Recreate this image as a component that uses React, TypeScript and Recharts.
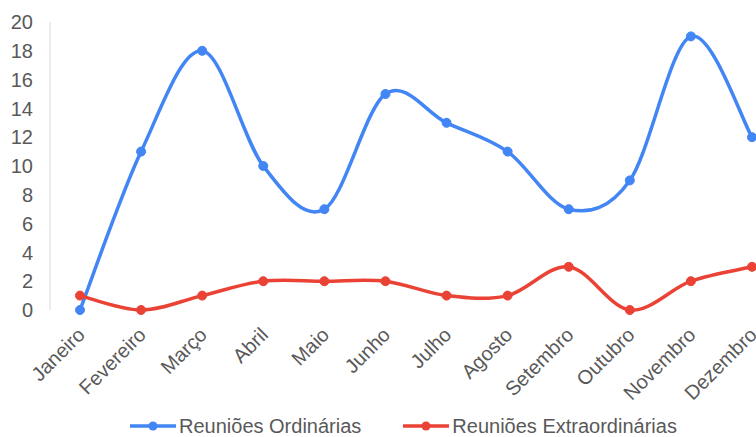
import { LineChart, Line, XAxis, YAxis, Legend } from "recharts";

const months = ["Janeiro", "Fevereiro", "Março", "Abril", "Maio", "Junho", "Julho", "Agosto", "Setembro", "Outubro", "Novembro", "Dezembro"];
const ordinarias = [0, 11, 18, 10, 7, 15, 13, 11, 7, 9, 19, 12];
const extraordinarias = [1, 0, 1, 2, 2, 2, 1, 1, 3, 0, 2, 3];
const yTicks = [0, 2, 4, 6, 8, 10, 12, 14, 16, 18, 20];

const data = months.map((m, i) => ({
  month: m,
  ord: ordinarias[i],
  ext: extraordinarias[i],
}));

const BLUE = "#4285f4";
const RED = "#ea4335";
const FONT = "'Liberation Sans', Arial, sans-serif";

// smoothed line like spreadsheet charts (catmull-rom style bezier)
const smoothCurve = (context: any) => {
  let pts: number[][] = [];
  return {
    areaStart() {},
    areaEnd() {},
    lineStart() {
      pts = [];
    },
    point(x: number, y: number) {
      pts.push([+x, +y]);
    },
    lineEnd() {
      if (!pts.length) return;
      context.moveTo(pts[0][0], pts[0][1]);
      for (let i = 0; i < pts.length - 1; i++) {
        const p0 = pts[i - 1] || pts[i];
        const p1 = pts[i];
        const p2 = pts[i + 1];
        const p3 = pts[i + 2] || pts[i + 1];
        context.bezierCurveTo(
          p1[0] + (p2[0] - p0[0]) / 6,
          p1[1] + (p2[1] - p0[1]) / 6,
          p2[0] - (p3[0] - p1[0]) / 6,
          p2[1] - (p3[1] - p1[1]) / 6,
          p2[0],
          p2[1]
        );
      }
    },
  };
};

const legendItems = [
  { label: "Reuniões Ordinárias", color: BLUE },
  { label: "Reuniões Extraordinárias", color: RED },
];

const renderLegend = () => (
  <div style={{ display: "flex", paddingLeft: 130, fontFamily: FONT, fontSize: 20, color: "#595959", height: 22, alignItems: "center", whiteSpace: "nowrap" }}>
    {legendItems.map((it) => (
      <div key={it.label} style={{ display: "flex", alignItems: "center", marginRight: 42 }}>
        <svg width={46} height={12} style={{ marginRight: 3 }}>
          <line x1={0} y1={6} x2={46} y2={6} stroke={it.color} strokeWidth={3.5} />
          <circle cx={23} cy={6} r={4.5} fill={it.color} />
        </svg>
        <span>{it.label}</span>
      </div>
    ))}
  </div>
);

export default function App() {
  return (
    <div style={{ position: "fixed", left: 0, top: 0, width: 756, height: 437, overflow: "hidden", background: "#fff" }}>
      <LineChart width={790} height={437} data={data} margin={{ top: 22, right: 8, left: 0, bottom: 0 }}>
        <XAxis
          dataKey="month"
          padding={{ left: 30, right: 30 }}
          axisLine={false}
          tickLine={false}
          tickSize={0}
          tickMargin={16}
          angle={-45}
          textAnchor="end"
          interval={0}
          height={105}
          tick={{ fill: "#595959", fontSize: 20, fontFamily: FONT, dx: -4 }}
        />
        <YAxis
          domain={[0, 20]}
          ticks={yTicks}
          width={50}
          axisLine={{ stroke: "#d9d9d9" }}
          tickLine={false}
          tickSize={0}
          tickMargin={17}
          tick={{ fill: "#595959", fontSize: 20, fontFamily: FONT }}
        />
        <Legend verticalAlign="bottom" height={22} content={renderLegend} wrapperStyle={{ left: 0, width: 756 }} />
        <Line
          dataKey="ord"
          name="Reuniões Ordinárias"
          type={smoothCurve as any}
          stroke={BLUE}
          strokeWidth={3.5}
          dot={{ r: 4.5, fill: BLUE, stroke: BLUE, strokeWidth: 1 }}
          isAnimationActive={false}
        />
        <Line
          dataKey="ext"
          name="Reuniões Extraordinárias"
          type={smoothCurve as any}
          stroke={RED}
          strokeWidth={3.5}
          dot={{ r: 4.5, fill: RED, stroke: RED, strokeWidth: 1 }}
          isAnimationActive={false}
        />
      </LineChart>
    </div>
  );
}
